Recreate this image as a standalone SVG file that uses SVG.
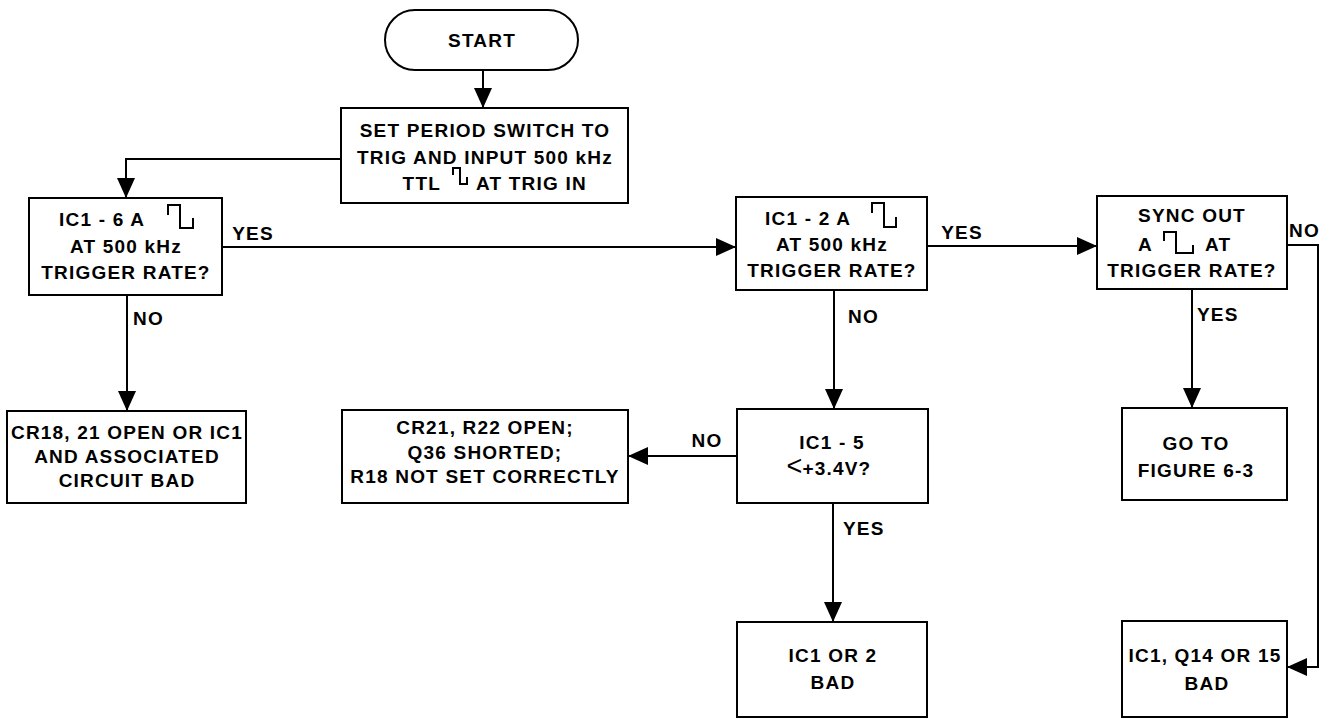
<svg xmlns="http://www.w3.org/2000/svg" width="1330" height="719" viewBox="0 0 1330 719">
<defs>
<marker id="ah" viewBox="0 0 20 18" refX="20" refY="9" markerWidth="20" markerHeight="18" markerUnits="userSpaceOnUse" orient="auto"><path d="M0,0 L20,9 L0,18 z" fill="#000"/></marker>
<style>
.box{fill:#fff;stroke:#000;stroke-width:2}
.t{font-family:"Liberation Sans",Arial,sans-serif;font-weight:bold;font-size:19px;letter-spacing:1.2px;fill:#000;text-anchor:middle}
.s{text-anchor:start}
.e{text-anchor:end}
.sq{fill:none;stroke:#000;stroke-width:2}
.c{fill:none;stroke:#000;stroke-width:2}
.lt{font-weight:normal;font-size:27px;letter-spacing:0}
</style>
</defs>
<rect width="1330" height="719" fill="#fff"/>

<g id="start">
<rect class="box" x="385" y="10" width="193" height="60" rx="30" ry="30"/>
<text class="t" x="482" y="47">START</text>
</g>

<g id="set-period">
<rect class="box" x="341" y="108" width="287" height="95"/>
<text class="t" x="485" y="137">SET PERIOD SWITCH TO</text>
<text class="t" x="485" y="164">TRIG AND INPUT 500 kHz</text>
<text class="t e" x="441" y="190">TTL</text>
<path class="sq" d="M453,175 V168 H460 V184 H467 V177"/>
<text class="t s" x="476" y="190">AT TRIG IN</text>
</g>

<g id="ic1-6">
<rect class="box" x="29" y="198" width="193" height="97"/>
<text class="t s" x="59" y="226">IC1 - 6 A</text>
<path class="sq" d="M168,215 V205 H180 V228 H193 V218"/>
<text class="t" x="126" y="253">AT 500 kHz</text>
<text class="t" x="126" y="279">TRIGGER RATE?</text>
</g>

<g id="ic1-2">
<rect class="box" x="736" y="197" width="191" height="93"/>
<text class="t s" x="765" y="225">IC1 - 2 A</text>
<path class="sq" d="M872,213 V203 H884 V227 H896 V217"/>
<text class="t" x="832" y="251">AT 500 kHz</text>
<text class="t" x="832" y="277">TRIGGER RATE?</text>
</g>

<g id="sync-out">
<rect class="box" x="1097" y="196" width="190" height="93"/>
<text class="t" x="1192" y="222">SYNC OUT</text>
<text class="t s" x="1138" y="251">A</text>
<path class="sq" d="M1164,241 V232 H1176 V253 H1193 V245"/>
<text class="t s" x="1205" y="251">AT</text>
<text class="t" x="1192" y="277">TRIGGER RATE?</text>
</g>

<g id="cr18">
<rect class="box" x="7" y="411" width="239" height="92"/>
<text class="t" x="127" y="439">CR18, 21 OPEN OR IC1</text>
<text class="t" x="127" y="463">AND ASSOCIATED</text>
<text class="t" x="127" y="487">CIRCUIT BAD</text>
</g>

<g id="cr21">
<rect class="box" x="342" y="410" width="286" height="93"/>
<text class="t" x="485" y="434">CR21, R22 OPEN;</text>
<text class="t" x="485" y="459">Q36 SHORTED;</text>
<text class="t" x="485" y="483">R18 NOT SET CORRECTLY</text>
</g>

<g id="ic1-5">
<rect class="box" x="737" y="409" width="191" height="94"/>
<text class="t" x="832" y="449">IC1 - 5</text>
<text class="t" x="829" y="475"><tspan class="lt">&lt;</tspan>+3.4V?</text>
</g>

<g id="goto">
<rect class="box" x="1122" y="408" width="165" height="92"/>
<text class="t" x="1196" y="450">GO TO</text>
<text class="t" x="1196" y="477">FIGURE 6-3</text>
</g>

<g id="ic1-or-2">
<rect class="box" x="737" y="622" width="190" height="95"/>
<text class="t" x="833" y="662">IC1 OR 2</text>
<text class="t" x="833" y="689">BAD</text>
</g>

<g id="ic1-q14">
<rect class="box" x="1122" y="621" width="165" height="96"/>
<text class="t" x="1205" y="662">IC1, Q14 OR 15</text>
<text class="t" x="1207" y="690">BAD</text>
</g>

<g id="connectors">
<path class="c" d="M483,70 V108" marker-end="url(#ah)"/>
<path class="c" d="M341,159 H126 V198" marker-end="url(#ah)"/>
<path class="c" d="M222,247 H736" marker-end="url(#ah)"/>
<path class="c" d="M927,246 H1097" marker-end="url(#ah)"/>
<path class="c" d="M127,295 V411" marker-end="url(#ah)"/>
<path class="c" d="M834,290 V409" marker-end="url(#ah)"/>
<path class="c" d="M737,456 H628" marker-end="url(#ah)"/>
<path class="c" d="M833,503 V622" marker-end="url(#ah)"/>
<path class="c" d="M1192,289 V408" marker-end="url(#ah)"/>
<path class="c" d="M1287,245 H1318 V667 H1287" marker-end="url(#ah)"/>
<text class="t" x="253" y="240">YES</text>
<text class="t" x="962" y="239">YES</text>
<text class="t s" x="133" y="325">NO</text>
<text class="t s" x="848" y="323">NO</text>
<text class="t" x="707" y="447">NO</text>
<text class="t s" x="843" y="535">YES</text>
<text class="t s" x="1197" y="321">YES</text>
<text class="t s" x="1289" y="237">NO</text>
</g>
</svg>
